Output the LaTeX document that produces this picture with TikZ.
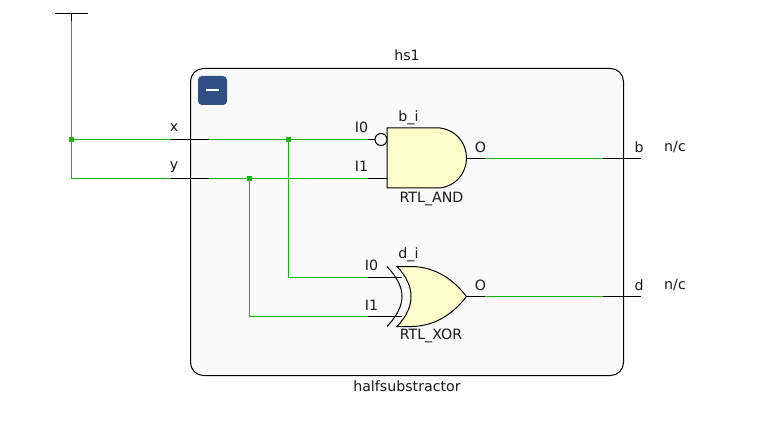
\documentclass[tikz,border=0pt]{standalone}
\usepackage{fontspec}
\setmainfont{DejaVu Sans}
\usepackage{xcolor}
\usetikzlibrary{positioning}
\definecolor{net}{HTML}{14B40A}
\definecolor{gatefill}{HTML}{FFFFCC}
\definecolor{cellfill}{HTML}{FAFAFA}
\definecolor{btnblue}{HTML}{2F4F85}
\tikzset{
  wire/.style={net,line width=1.1pt},
  stub/.style={black,line width=1.1pt},
  outline/.style={black,line width=1pt},
  dot/.style={fill=net,inner sep=0pt,minimum size=5.5pt},
  lbl/.style={font=\fontsize{14.2}{16}\selectfont,text=black!90,inner sep=0pt}
}
\begin{document}
\begin{tikzpicture}[x=1pt,y=-1pt]
\useasboundingbox (0,0) rectangle (768,422);
\draw[outline,fill=cellfill,rounded corners=13pt] (190.5,68.5) rectangle (623.5,375.5);
\fill[btnblue,rounded corners=4pt] (198,76) rectangle (227,105);
\fill[white] (206,89) rectangle (219,91.5);
% pins
\coordinate (vcc) at (71.5,13.5);
\coordinate (vccend) at (71.5,21);
\coordinate (xin) at (171,139.5);
\coordinate (xport) at (209,139.5);
\coordinate (yin) at (171,178.5);
\coordinate (yport) at (209,178.5);
\coordinate (bi0) at (368,139.5);
\coordinate (bi1) at (368,178.5);
\coordinate (bo) at (485,158.5);
\coordinate (bout) at (603,158.5);
\coordinate (bend) at (641,158.5);
\coordinate (di0) at (368,277.5);
\coordinate (di1) at (368,316.5);
\coordinate (do) at (485,296.5);
\coordinate (dout) at (603,296.5);
\coordinate (dend) at (641,296.5);
\node[dot] (xroot) at (71.5,139.5) {};
\node[dot] (xtap) at (288.5,139.5) {};
\node[dot] (ytap) at (249.5,178.5) {};
% nets
\draw[wire] (vccend) -- (xroot.center) -- (xin);
\draw[wire] (xroot.center) |- (yin);
\draw[wire] (xport) -- (xtap.center) -- (bi0);
\draw[wire] (yport) -- (ytap.center) -- (bi1);
\draw[wire] (xtap.center) |- (di0);
\draw[wire] (ytap.center) |- (di1);
\draw[wire] (bo) -- (bout);
\draw[wire] (do) -- (dout);
\draw[stub] (55,13.5) -- (88,13.5);
\draw[stub] (vcc) -- (vccend);
\draw[stub] (xin) -- (xport);
\draw[stub] (yin) -- (yport);
\draw[stub] (bout) -- (bend);
\draw[stub] (dout) -- (dend);
% and gate
\draw[stub] (bi1) -- (387,178.5);
\draw[stub] (bi0) -- (375,139.5);
\draw[stub] (467,158.5) -- (bo);
\draw[outline,fill=gatefill] (387,128) -- (440,128) .. controls (456,130) and (466.5,143) .. (466.5,158)
  .. controls (466.5,173) and (456,186) .. (440,188) -- (387,188) -- cycle;
\node[draw=black,line width=1pt,fill=cellfill,circle,inner sep=0pt,minimum size=12pt] (bubble) at (381,139.5) {};
% xor gate
\draw[stub] (di0) -- (402,277.5);
\draw[stub] (di1) -- (402,316.5);
\draw[stub] (467,296.5) -- (do);
\draw[outline,fill=gatefill] (397,266.5) -- (412,266.5) .. controls (435,267) and (453,279) .. (466.5,296.5)
  .. controls (453,314) and (435,326) .. (412,326.5) -- (397,326.5)
  .. controls (407,316) and (411,306) .. (411,296.5) .. controls (411,287) and (407,277) .. (397,266.5) -- cycle;
\draw[outline] (387,266.5) .. controls (397,277) and (402,287) .. (402,296.5) .. controls (402,306) and (397,316) .. (387,326.5);
% labels
\node[lbl] (hsname) at (407,55) {hs1};
\node[lbl] (hstype) at (407,386) {halfsubstractor};
\node[lbl] (xlbl) at (174,127.5) {x};
\node[lbl] (ylbl) at (174,167.5) {y};
\node[lbl] (bname) at (408.5,118) {b\_i};
\node[lbl] (btype) at (431.5,198.5) {RTL\_AND};
\node[lbl] (bi0lbl) at (361.5,127) {I0};
\node[lbl] (bi1lbl) at (361.5,166.5) {I1};
\node[lbl] (bolbl) at (480.5,147) {O};
\node[lbl] (dname) at (408.5,255) {d\_i};
\node[lbl] (dtype) at (431,336) {RTL\_XOR};
\node[lbl] (di0lbl) at (371.5,265) {I0};
\node[lbl] (di1lbl) at (371.5,305) {I1};
\node[lbl] (dolbl) at (480.5,285) {O};
\node[lbl] (bport) at (639,147) {b};
\node[lbl] (bnc) at (675,147) {n/c};
\node[lbl] (dport) at (639,285) {d};
\node[lbl] (dnc) at (675,285) {n/c};
\end{tikzpicture}
\end{document}
